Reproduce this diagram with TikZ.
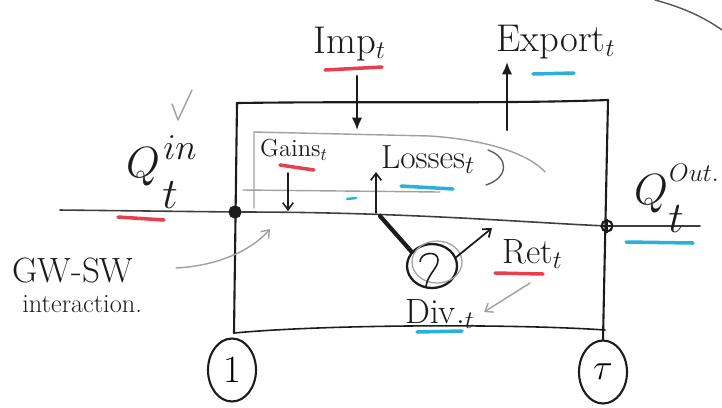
\documentclass[tikz,border=0pt]{standalone}
\usetikzlibrary{arrows.meta,shapes.geometric}
\definecolor{ink}{RGB}{28,28,28}
\definecolor{redmark}{RGB}{232,62,78}
\definecolor{bluemark}{RGB}{42,176,218}
\definecolor{pencil}{RGB}{160,160,160}

\begin{document}
\begin{tikzpicture}[x=0.02cm,y=-0.02cm,
  hand/.style={draw=ink, line width=1.2pt, line cap=round, line join=round},
  river/.style={draw=ink!85, line width=0.9pt, line cap=round},
  lbl/.style={text=ink, inner sep=0pt},
  redline/.style={draw=redmark, line width=2pt, line cap=round},
  blueline/.style={draw=bluemark, line width=2pt, line cap=round},
  faint/.style={draw=pencil, line width=0.8pt, line cap=round, line join=round},
  junction/.style={circle, draw=ink, line width=1.2pt, minimum size=0.22cm, inner sep=0pt},
  tag/.style={ellipse, draw=ink, line width=1.2pt, minimum width=0.96cm, minimum height=1.26cm, inner sep=0pt, font=\fontsize{22}{22}\selectfont},
  bigtip/.style={-{Latex[length=7pt,width=6pt]}},
  opentip/.style={-{Straight Barb[length=4pt,width=6pt]}}
]
\useasboundingbox (0,0) rectangle (722,407);

% ---- time indices ----
\node[tag] (t1) at (232,370) {1};
\node[tag] (ttau) at (603,372) {$\tau$};

% ---- control volume (reach) ----
\coordinate (boxTL) at (237,103);
\coordinate (boxTR) at (608,100);
\coordinate (boxBL) at (234,333);
\coordinate (boxBR) at (605,330);
\draw[hand] (boxTL) .. controls (380,101) and (500,104) .. (boxTR);
\draw[hand] (boxTL) -- (boxBL);
\draw[hand] (boxTR) -- (ttau.north);
\draw[hand, line width=0.9pt] (boxBL) .. controls (330,324) and (520,324) .. (boxBR);

% ---- river line with inlet / outlet junctions ----
\coordinate (rivL) at (60,210);
\coordinate (rivR) at (700,226);
\node[junction, fill=ink] (inN) at (235,212) {};
\node[junction] (outN) at (607,226) {};
\draw[ink, line width=0.8pt] (outN.north) -- (outN.south) (outN.west) -- (outN.east);
\draw[river] (rivL) -- (inN);
\draw[river] (inN) .. controls (400,212) and (520,222) .. (outN);
\draw[river] (outN) -- (rivR);

% ---- inflow / outflow labels ----
\node[lbl] (qin) at (143,167) {\fontsize{30}{30}\selectfont $Q$};
\node[lbl] (qinsup) at (180,148) {\fontsize{21}{21}\selectfont $in$};
\node[lbl] (qinsub) at (170,195) {\fontsize{24}{24}\selectfont $t$};
\draw[redline] (118,217) -- (164,220);

\node[lbl] (qout) at (651,194) {\fontsize{30}{30}\selectfont $Q$};
\node[lbl] (qoutsup) at (694,173) {\fontsize{15}{15}\selectfont $Out.$};
\node[lbl] (qoutsub) at (676,219) {\fontsize{24}{24}\selectfont $t$};
\draw[blueline] (626,242) -- (693,243);

% ---- import / export across the top ----
\node[lbl] (imp) at (350,44) {\fontsize{22}{22}\selectfont Imp$_t$};
\draw[redline] (325,70) -- (382,67);
\coordinate (impEnd) at (357,130);
\draw[hand, bigtip] (357,76) -- (impEnd);

\node[lbl] (exp) at (556,42) {\fontsize{22}{22}\selectfont Export$_t$};
\draw[blueline] (533,74) -- (574,73);
\coordinate (expStart) at (507,130);
\draw[hand, bigtip] (expStart) -- (507,62);

% ---- gains / losses zone ----
\draw[faint] (254,208) -- (254,132) -- (430,136) .. controls (490,140) and (530,155) .. (545,172);
\draw[faint] (243,190) -- (440,192);
\draw[faint, draw=ink!70] (488,150) .. controls (510,158) and (508,178) .. (486,185);
\node[lbl] (gains) at (294,150) {\fontsize{14}{14}\selectfont Gains$_t$};
\draw[redline] (280,165) -- (314,170);
\draw[hand, line width=0.9pt, opentip] (288,173) -- (288,211);
\node[lbl] (losses) at (428,160) {\fontsize{19}{19}\selectfont Losses$_t$};
\draw[blueline] (401,186) -- (453,189);
\draw[hand, line width=0.9pt, opentip] (376,213) -- (376,172);
\draw[blueline, line width=1.4pt] (347,199) -- (356,198);

% ---- GW-SW interaction ----
\node[lbl, anchor=base west] (gwsw) at (12,282) {\fontsize{20}{20}\selectfont GW-SW};
\node[lbl, anchor=base west] (inter) at (22,312) {\fontsize{15}{15}\selectfont interaction.};
\draw[faint, -{Straight Barb[length=4pt,width=6pt]}] (176,268) .. controls (215,266) and (250,252) .. (270,229);

% ---- abstraction point, return and diversion ----
\coordinate (pumpTop) at (380,216);
\node[ellipse, draw=ink, line width=1.3pt, minimum width=1cm, minimum height=0.88cm, inner sep=0pt] (pump) at (432,266) {};
\draw[pencil, line width=0.7pt] (437,262) ellipse[x radius=25, y radius=21];
\draw[ink, line width=2.4pt, line cap=round] (pumpTop) -- (pump.145);
\draw[ink, line width=0.9pt] (420,262) .. controls (420,252) and (438,250) .. (438,260) .. controls (438,268) and (428,274) .. (426,286);
\draw[hand, line width=1pt, opentip] (pump.20) -- (492,228);
\node[lbl, anchor=base west] (ret) at (502,263) {\fontsize{20}{20}\selectfont Ret$_t$};
\draw[redline] (495,273) -- (543,274);
\draw[faint, -{Straight Barb[length=4pt,width=6pt]}] (530,283) -- (484,312);
\node[lbl, anchor=base west] (div) at (405,323) {\fontsize{20}{20}\selectfont Div.$_t$};
\draw[blueline] (417,332) -- (462,331);

% ---- pencil marks ----
\draw[faint] (172,104) -- (178,120) -- (192,90);
\draw[faint, draw=ink!75] (655,0) .. controls (685,8) and (705,18) .. (722,30);
\end{tikzpicture}
\end{document}
